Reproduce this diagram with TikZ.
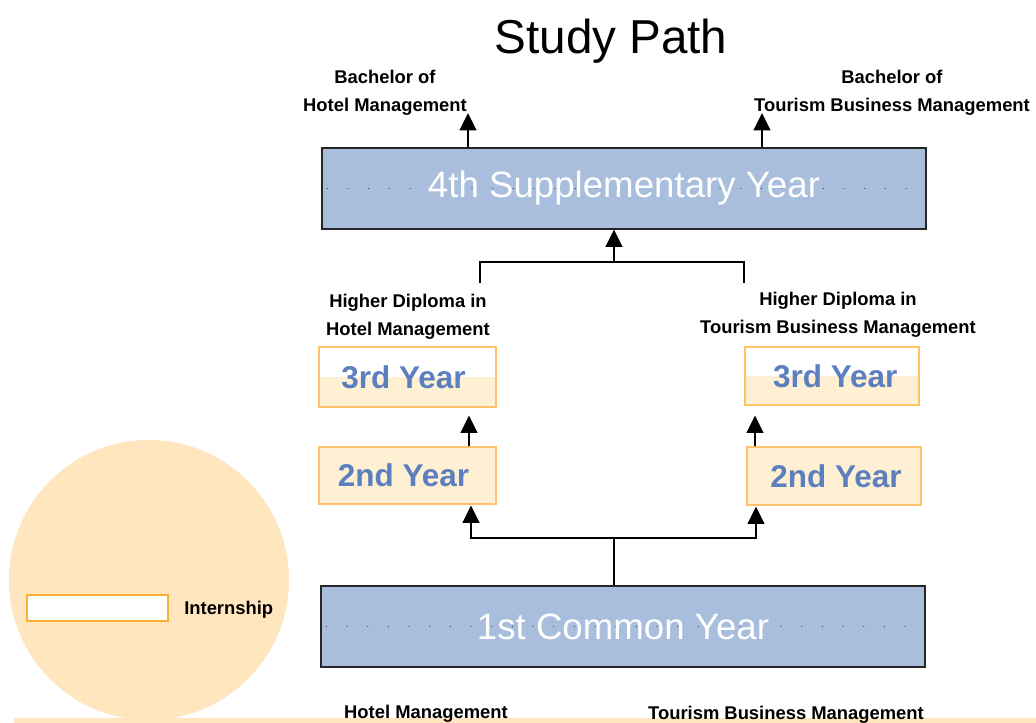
\documentclass[tikz,border=0pt]{standalone}
\usepackage{fontspec}
\setmainfont{Liberation Sans}
\usetikzlibrary{arrows.meta,calc}
\definecolor{yearblue}{HTML}{A9BEDD}
\definecolor{yeartext}{HTML}{5B7FBF}
\definecolor{yearfill}{HTML}{FFF0D4}
\definecolor{yearedge}{HTML}{FFC266}
\definecolor{legendbg}{HTML}{FFE6BF}
\definecolor{legendedge}{HTML}{FFB02E}
\tikzset{
  bluebox/.style={draw=black!85, line width=0.8pt, fill=yearblue, text=white,
    font=\fontsize{27.5}{30}\selectfont, inner sep=0pt,
    path picture={\draw[black!70, line width=1pt, line cap=round, dash pattern=on 0pt off 15.5pt]
      ([xshift=4pt]path picture bounding box.west) -- (path picture bounding box.east);}},
  yearbox/.style={draw=yearedge, line width=0.8pt, fill=yearfill, text=yeartext,
    font=\fontsize{23.6}{26}\bfseries\selectfont, inner sep=0pt},
  splitbox/.style={yearbox, fill=white,
    path picture={\fill[yearfill] (path picture bounding box.west) rectangle (path picture bounding box.south east);}},
  label/.style={font=\fontsize{13.8}{21}\bfseries\selectfont, align=center, inner sep=0pt},
  link/.style={line width=1.5pt},
  arr/.style={link, -{Triangle[length=13pt,width=12.5pt]}}
}
\begin{document}
\begin{tikzpicture}[x=0.75pt,y=-0.75pt]
\useasboundingbox (0,0) rectangle (1036,723);
% legend
\fill[legendbg] (149,580) circle (105pt);
\fill[legendbg] (14,718) rectangle (1036,723);
\node[draw=legendedge, fill=white, line width=1.8pt, minimum width=141*0.75pt, minimum height=26*0.75pt, inner sep=0pt] (intern) at (97.5,608) {};
\node[label, anchor=west] (internlbl) at (184,610) {Internship};
% title
\node[font=\fontsize{35.7}{40}\selectfont, inner sep=0pt] (title) at (611,41) {Study Path};
% years
\node[bluebox, minimum width=604*0.75pt, minimum height=81*0.75pt] (y4) at (624,188.5) {4th Supplementary Year};
\node[bluebox, minimum width=604*0.75pt, minimum height=81*0.75pt] (y1) at (623,626.5) {1st Common Year};
\node[splitbox, minimum width=177*0.75pt, minimum height=60*0.75pt] (y3L) at (407.5,377) {\hspace*{-6pt}3rd Year};
\node[splitbox, minimum width=174*0.75pt, minimum height=58*0.75pt] (y3R) at (832,376) {\hspace*{5pt}3rd Year};
\node[yearbox, minimum width=177*0.75pt, minimum height=57*0.75pt] (y2L) at (407.5,475.5) {\hspace*{-6pt}2nd Year};
\node[yearbox, minimum width=174*0.75pt, minimum height=58*0.75pt] (y2R) at (834,476) {\hspace*{3pt}2nd Year};
% labels
\node[label] (bachH) at (385,92.5) {Bachelor of\\Hotel Management};
\node[label] (bachT) at (892,93) {Bachelor of\\Tourism Business Management};
\node[label] (dipH) at (408,317) {Higher Diploma in\\Hotel Management};
\node[label] (dipT) at (838,315) {Higher Diploma in\\Tourism Business Management};
\node[label] (hotel) at (426,714) {Hotel Management};
\node[label] (tourism) at (786,715) {Tourism Business Management};
% connectors
\coordinate (outH) at (468,113);
\coordinate (outT) at (762,113);
\draw[arr] (outH |- y4.north) -- (outH);
\draw[arr] (outT |- y4.north) -- (outT);
\coordinate (merge) at (614,262);
\coordinate (mergeL) at (480,283);
\coordinate (mergeR) at (744,283);
\draw[link] (mergeL) -- (mergeL |- merge) -- (mergeR |- merge) -- (mergeR);
\draw[arr] (merge) -- (merge |- y4.south);
\draw[arr] ($(y2L.north)+(61.5,0)$) -- ($(y3L.south)+(61.5,8)$);
\draw[arr] ($(y2R.north)+(-79,0)$) -- ($(y3R.south)+(-77,10)$);
\coordinate (split) at (614,538);
\coordinate (tapL) at (471,538);
\coordinate (tapR) at (756,538);
\draw[link] (y1.north -| split) -- (split);
\draw[arr] (tapR) -- (tapL) -- ($(tapL |- y2L.south)+(0,1)$);
\draw[arr] (tapL) -- (tapR) -- ($(tapR |- y2R.south)+(0,1)$);
\end{tikzpicture}
\end{document}
